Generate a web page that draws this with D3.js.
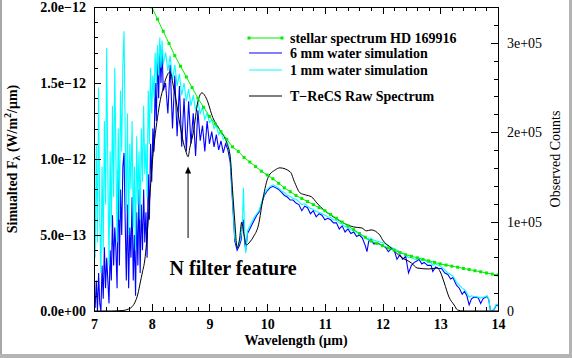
<!DOCTYPE html>
<html>
<head>
<meta charset="utf-8">
<script src="https://cdn.jsdelivr.net/npm/d3@7"></script>
<style>
body { margin: 0; background: #fff; }
svg text { font-family: "Liberation Serif", "Times New Roman", serif; }
</style>
</head>
<body>
<div id="chart"></div>
<script>
// stellar model, flux in units of 1e-12 W/m2/um
var stellarWave = [8.0,8.1,8.2,8.3,8.4,8.5,8.6,8.7,8.8,8.9,
  9.0,9.1,9.2,9.3,9.4,9.5,9.6,9.7,9.8,9.9,
  10.0,10.1,10.2,10.3,10.4,10.5,10.6,10.7,10.8,10.9,
  11.0,11.1,11.2,11.3,11.4,11.5,11.6,11.7,11.8,11.9,
  12.0,12.1,12.2,12.3,12.4,12.5,12.6,12.7,12.8,12.9,
  13.0,13.1,13.2,13.3,13.4,13.5,13.6,13.7,13.8,13.9,14.0];
var stellarFlux = [2.00,1.92,1.84,1.76,1.68,1.61,1.54,1.47,1.40,1.34,
  1.28,1.23,1.18,1.13,1.08,1.05,1.01,0.98,0.95,0.92,
  0.895,0.87,0.84,0.81,0.785,0.76,0.74,0.72,0.70,0.68,
  0.66,0.635,0.61,0.585,0.56,0.535,0.51,0.485,0.46,0.445,
  0.43,0.415,0.40,0.385,0.37,0.36,0.35,0.34,0.33,0.32,
  0.31,0.302,0.295,0.288,0.28,0.273,0.265,0.258,0.25,0.243,0.237];

// simulated spectra (1e-12 W/m2/um)
var simWave = [7.00,7.02,7.04,7.06,7.08,7.10,7.12,7.14,7.16,7.18,
  7.20,7.22,7.24,7.26,7.28,7.30,7.32,7.34,7.36,7.38,
  7.40,7.42,7.44,7.46,7.48,7.50,7.52,7.54,7.56,7.58,
  7.60,7.62,7.64,7.66,7.68,7.70,7.72,7.74,7.76,7.78,
  7.80,7.82,7.84,7.86,7.88,7.90,7.92,7.94,7.96,7.98,
  8.00,8.02,8.04,8.06,8.08,8.10,8.12,8.14,8.16,8.18,8.20,
  8.24,8.28,8.32,8.36,8.40,8.44,8.48,8.52,8.56,8.60,8.64,8.68,8.72,8.76,8.80,
  8.84,8.88,8.92,8.96,9.00,9.04,9.08,9.12,9.16,9.20,9.24,9.28,9.32,9.36,
  9.40,9.44,9.48,9.52,9.55,9.57,9.59,9.61,9.63,9.66,9.70,9.74,9.78,9.82,9.86,
  9.90,9.95,10.00,10.05,10.10,10.15,
  10.20,10.25,10.30,10.35,10.40,10.45,10.50,10.55,10.60,10.65,
  10.70,10.75,10.80,10.85,10.90,10.95,11.00,11.05,11.10,11.15,
  11.20,11.25,11.30,11.35,11.40,11.45,11.50,11.55,11.60,11.65,11.70,
  11.73,11.76,11.80,11.85,11.90,11.95,12.00,
  12.05,12.10,12.15,12.20,12.25,12.30,12.35,12.40,12.45,12.50,
  12.55,12.60,12.63,12.68,12.72,12.78,12.84,12.87,12.92,12.97,
  13.02,13.08,13.13,13.18,13.22,13.28,13.33,13.38,13.42,13.46,
  13.50,13.54,13.58,13.62,13.66,13.70,13.74,13.78,13.81,13.84,
  13.87,13.90,13.94,13.97,14.00];
var sim1mm = [0.85,0.35,1.10,0.45,1.47,0.60,0.25,0.95,0.40,1.25,
  0.70,1.73,0.90,0.30,1.05,0.55,1.35,0.75,1.60,1.00,
  0.45,1.20,0.60,1.45,1.05,1.62,1.84,1.20,0.65,1.30,
  0.50,1.10,0.80,1.25,0.55,0.95,0.40,1.15,0.70,1.05,
  0.60,1.20,0.85,1.35,0.90,1.10,0.75,1.45,1.10,1.60,
  1.30,1.55,1.40,1.70,1.50,1.75,1.55,1.80,1.60,1.78,1.62,
  1.70,1.58,1.68,1.52,1.62,1.48,1.56,1.42,1.50,1.38,1.46,1.35,1.42,1.32,1.38,
  1.30,1.34,1.26,1.30,1.24,1.26,1.20,1.22,1.16,1.18,1.13,1.14,1.10,1.02,
  0.75,0.48,0.42,0.45,0.50,0.56,0.81,0.50,0.38,0.53,0.56,0.59,0.62,0.64,0.66,
  0.71,0.77,0.80,0.82,0.83,0.82,
  0.81,0.79,0.78,0.76,0.755,0.74,0.735,0.72,0.70,0.705,
  0.69,0.675,0.67,0.655,0.65,0.64,0.63,0.62,0.615,0.60,
  0.595,0.58,0.57,0.555,0.55,0.535,0.53,0.515,0.51,0.495,0.49,
  0.47,0.48,0.48,0.465,0.46,0.455,0.45,
  0.44,0.43,0.42,0.41,0.40,0.39,0.38,0.37,0.35,0.35,
  0.34,0.34,0.35,0.33,0.34,0.32,0.32,0.30,0.31,0.30,
  0.29,0.27,0.25,0.24,0.23,0.19,0.17,0.15,0.14,0.12,
  0.09,0.10,0.095,0.095,0.09,0.085,0.09,0.095,0.10,0.08,
  0.00,0.00,0.02,0.045,0.04];
var sim6mm = [0.15,0.02,0.20,0.00,0.25,0.05,0.00,0.30,0.08,0.42,
  0.15,0.35,0.20,0.05,0.40,0.20,0.63,0.30,0.55,0.40,
  0.15,0.93,0.30,0.80,0.50,0.95,1.04,0.60,0.20,0.70,
  0.15,0.55,0.35,0.75,0.20,0.50,0.10,0.65,0.30,0.80,
  0.25,0.70,0.40,0.80,0.45,0.65,0.35,0.90,0.60,1.10,
  0.85,1.20,1.05,1.50,1.25,1.70,1.40,1.75,1.50,1.72,1.45,
  1.50,1.30,1.62,1.20,1.55,1.15,1.48,1.08,1.40,1.05,1.38,1.10,1.30,1.02,1.32,
  1.12,1.22,1.05,1.25,1.10,1.18,1.08,1.16,1.06,1.12,1.04,1.10,1.06,0.98,
  0.72,0.46,0.40,0.43,0.47,0.58,0.60,0.45,0.40,0.51,0.54,0.57,0.60,0.63,0.65,
  0.70,0.76,0.79,0.81,0.82,0.81,
  0.80,0.78,0.76,0.75,0.73,0.73,0.71,0.70,0.66,0.69,
  0.68,0.64,0.66,0.62,0.64,0.63,0.60,0.61,0.60,0.58,
  0.58,0.54,0.56,0.52,0.54,0.51,0.52,0.49,0.50,0.48,0.43,
  0.39,0.46,0.47,0.44,0.45,0.44,0.43,
  0.42,0.39,0.41,0.40,0.34,0.37,0.34,0.36,0.25,0.30,
  0.32,0.33,0.34,0.31,0.32,0.30,0.30,0.26,0.29,0.28,
  0.28,0.25,0.24,0.21,0.22,0.17,0.15,0.11,0.13,0.10,
  0.04,0.08,0.09,0.09,0.085,0.05,0.08,0.09,0.095,0.075,
  0.00,0.00,0.015,0.04,0.035];

// T-ReCS raw counts
var rawWave = [7.00,7.30,7.50,7.60,7.66,7.72,7.76,7.80,7.84,7.88,7.91,7.94,7.97,
  8.00,8.05,8.10,8.15,8.20,8.25,8.32,8.37,8.42,8.49,8.55,8.60,8.63,8.66,8.72,
  8.80,8.87,8.95,9.06,9.18,9.30,9.36,9.40,9.44,9.48,9.52,9.56,9.60,9.64,9.70,
  9.76,9.85,9.93,10.02,10.14,10.22,10.40,10.48,10.57,10.66,10.77,10.86,10.98,
  11.15,11.32,11.50,11.64,11.72,11.80,11.95,12.00,12.15,12.32,12.50,12.60,
  12.80,12.95,13.00,13.07,13.15,13.24,13.30,13.40,14.00];
var rawCounts = [0,0,560,2240,4800,11200,19000,31300,43700,57100,76100,101900,129900,
  157800,191400,216100,236200,249600,260800,267500,253000,236200,208200,188100,176900,172400,182500,199300,
  234000,244000,237300,216100,202600,188100,172400,135500,100000,70500,79500,99600,85100,73900,77200,
  82800,96300,126500,150000,157800,160100,155600,143300,132100,129900,127600,120900,113100,
  105200,98500,94000,92900,89600,90700,85100,79500,70500,60400,53700,48100,
  47000,48100,43700,31300,15700,6700,1100,0,0];

var xTicks = [7,8,9,10,11,12,13,14];
var leftTicks = [0,0.5,1.0,1.5,2.0];
var leftTickLabels = ["0.0e+00","5.0e\u221213","1.0e\u221212","1.5e\u221212","2.0e\u221212"];
var rightTicks = [0,100000,200000,300000];
var rightTickLabels = ["0","1e+05","2e+05","3e+05"];
var legendLabels = ["stellar spectrum HD 169916","6 mm water simulation","1 mm water simulation","T\u2212ReCS Raw Spectrum"];
var legendColors = ["#00ee00","#0000ff","#00ffff","#000000"];

// arrow annotation (wavelength, from flux, to flux)
var arrowAt = 8.63, arrowFrom = 0.48, arrowTo = 0.95;

var W = 572, H = 358;
var plotL = 94, plotR = 498, plotT = 7, plotB = 311;

var svg = d3.select("#chart")
  .append("svg")
  .attr("width", W).attr("height", H);

svg.append("rect").attr("width", W).attr("height", H).attr("fill", "#fff");
// grey window border
svg.append("rect").attr("x", 0).attr("y", 0).attr("width", 2).attr("height", H).attr("fill", "#a8a8a8");
svg.append("rect").attr("x", 0).attr("y", 354).attr("width", W).attr("height", 4).attr("fill", "#b4b4b4");
svg.append("rect").attr("x", 569).attr("y", 0).attr("width", 3).attr("height", H).attr("fill", "#b4b4b4");

var x = d3.scaleLinear().domain([7, 14]).range([plotL, plotR]);
var yL = d3.scaleLinear().domain([0, 2.0]).range([plotB, plotT]);
var yR = d3.scaleLinear().domain([0, 340000]).range([plotB, plotT]);

svg.append("clipPath").attr("id", "plotclip")
  .append("rect").attr("x", plotL).attr("y", plotT)
  .attr("width", plotR - plotL).attr("height", plotB - plotT);

var plot = svg.append("g").attr("clip-path", "url(#plotclip)");

var lineL = d3.line().x(d => x(d[0])).y(d => yL(d[1]));
var lineR = d3.line().x(d => x(d[0])).y(d => yR(d[1])).curve(d3.curveMonotoneX);

//6 mm water
plot.append("path")
  .attr("d", lineL(d3.zip(simWave, sim6mm)))
  .attr("fill", "none").attr("stroke", "#0000ff").attr("stroke-width", 1.1);

//1 mm water
plot.append("path")
  .attr("d", lineL(d3.zip(simWave, sim1mm)))
  .attr("fill", "none").attr("stroke", "#00ffff").attr("stroke-width", 1.1);

//raw spectrum
plot.append("path")
  .attr("d", lineR(d3.zip(rawWave, rawCounts)))
  .attr("fill", "none").attr("stroke", "#000").attr("stroke-width", 1);

//stellar
var stellar = d3.zip(stellarWave, stellarFlux);
plot.append("path")
  .attr("d", lineL(stellar))
  .attr("fill", "none").attr("stroke", "#00ee00").attr("stroke-width", 1);
plot.selectAll("rect.mk")
  .data(stellar)
  .enter().append("rect")
  .attr("class", "mk")
  .attr("x", d => x(d[0]) - 1.5).attr("y", d => yL(d[1]) - 1.5)
  .attr("width", 3).attr("height", 3)
  .attr("fill", "#00ee00");

// frame
svg.append("rect")
  .attr("x", plotL).attr("y", plotT)
  .attr("width", plotR - plotL).attr("height", plotB - plotT)
  .attr("fill", "none").attr("stroke", "#000").attr("stroke-width", 1)
  .attr("shape-rendering", "crispEdges");

function styleAxis(g, weight) {
  g.select(".domain").remove();
  g.selectAll("line").attr("stroke", "#000").attr("shape-rendering", "crispEdges");
  g.selectAll("text")
    .attr("font-family", "Liberation Serif, serif")
    .attr("font-size", 14)
    .attr("font-weight", weight)
    .attr("fill", "#000");
}

var minorX = d3.range(7, 14.01, 0.2);

// bottom axis
svg.append("g").attr("transform", "translate(0," + plotB + ")")
  .call(d3.axisBottom(x).tickValues(xTicks).tickSize(-7).tickPadding(8).tickFormat(d3.format("d")))
  .call(g => styleAxis(g, "bold"));
svg.append("g").attr("transform", "translate(0," + plotB + ")")
  .call(d3.axisBottom(x).tickValues(minorX).tickSize(-4).tickFormat(""))
  .call(g => styleAxis(g, "bold"));
// top axis
svg.append("g").attr("transform", "translate(0," + plotT + ")")
  .call(d3.axisTop(x).tickValues(xTicks).tickSize(-7).tickFormat(""))
  .call(g => styleAxis(g, "bold"));
svg.append("g").attr("transform", "translate(0," + plotT + ")")
  .call(d3.axisTop(x).tickValues(minorX).tickSize(-4).tickFormat(""))
  .call(g => styleAxis(g, "bold"));

// left axis
svg.append("g").attr("transform", "translate(" + plotL + ",0)")
  .call(d3.axisLeft(yL).tickValues(leftTicks).tickSize(-7).tickPadding(8)
    .tickFormat((d, i) => leftTickLabels[i]))
  .call(g => styleAxis(g, "bold"));
svg.append("g").attr("transform", "translate(" + plotL + ",0)")
  .call(d3.axisLeft(yL).tickValues(d3.range(0, 2.001, 0.1)).tickSize(-4).tickFormat(""))
  .call(g => styleAxis(g, "bold"));

// right axis
svg.append("g").attr("transform", "translate(" + plotR + ",0)")
  .call(d3.axisRight(yR).tickValues(rightTicks).tickSize(-7).tickPadding(9)
    .tickFormat((d, i) => rightTickLabels[i]))
  .call(g => styleAxis(g, "normal"));
svg.append("g").attr("transform", "translate(" + plotR + ",0)")
  .call(d3.axisRight(yR).tickValues(d3.range(0, 340001, 20000)).tickSize(-4).tickFormat(""))
  .call(g => styleAxis(g, "normal"));

// axis titles
svg.append("text")
  .attr("x", (plotL + plotR) / 2).attr("y", 345)
  .attr("text-anchor", "middle")
  .attr("font-size", 14).attr("font-weight", "bold")
  .text("Wavelength (\u03bcm)");

var lt = svg.append("text")
  .attr("transform", "translate(17," + ((plotT + plotB) / 2) + ") rotate(-90)")
  .attr("text-anchor", "middle")
  .attr("font-size", 14).attr("font-weight", "bold");
lt.append("tspan").text("Simualted F");
lt.append("tspan").attr("font-size", 10).attr("dy", 3).text("\u03bb");
lt.append("tspan").attr("dy", -3).text(" (W/m");
lt.append("tspan").attr("font-size", 10).attr("dy", -6).text("2");
lt.append("tspan").attr("dy", 6).text("/\u03bcm)");

svg.append("text")
  .attr("transform", "translate(560," + ((plotT + plotB) / 2) + ") rotate(-90)")
  .attr("text-anchor", "middle")
  .attr("font-size", 14)
  .text("Observed Counts");

// arrow + label
svg.append("line")
  .attr("x1", x(arrowAt)).attr("x2", x(arrowAt))
  .attr("y1", yL(arrowFrom)).attr("y2", yL(arrowTo) + 5)
  .attr("stroke", "#000").attr("stroke-width", 1);
svg.append("path")
  .attr("d", "M" + x(arrowAt) + "," + yL(arrowTo) + " l-3,7 l6,0 z")
  .attr("fill", "#000");
svg.append("text")
  .attr("x", x(8.31)).attr("y", yL(0.237))
  .attr("font-size", 20).attr("font-weight", "bold")
  .text("N filter feature");

//legend
var legY = [38, 53, 70, 96];
legendLabels.forEach(function(t, i) {
  svg.append("line")
    .attr("x1", 249).attr("x2", 282)
    .attr("y1", legY[i]).attr("y2", legY[i])
    .attr("stroke", legendColors[i]).attr("stroke-width", 1.2);
  if (i == 0) {
    [249, 282].forEach(function(px) {
      svg.append("rect").attr("x", px - 1.5).attr("y", legY[i] - 1.5)
        .attr("width", 3).attr("height", 3).attr("fill", legendColors[i]);
    });
  }
  svg.append("text")
    .attr("x", 290).attr("y", legY[i]).attr("dy", "0.33em")
    .attr("font-size", 14).attr("font-weight", "bold")
    .text(t);
});
</script>
</body>
</html>
